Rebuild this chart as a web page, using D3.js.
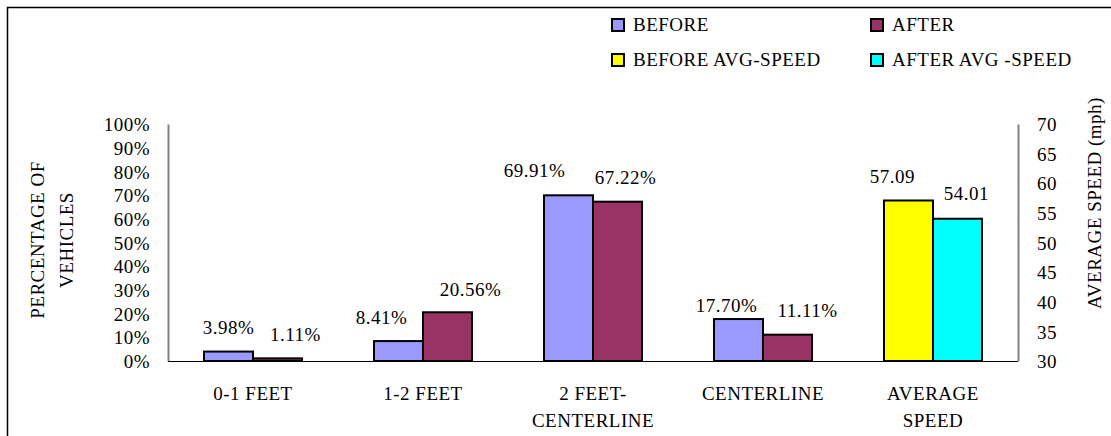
<!DOCTYPE html>
<html>
<head>
<meta charset="utf-8">
<script src="https://cdn.jsdelivr.net/npm/d3@7"></script>
<style>
  body { margin: 0; background: #fff; }
  text { font-family: "Liberation Serif", "Times New Roman", serif; font-size: 19px; letter-spacing: 0.5px; fill: #000; }
</style>
</head>
<body>
<div id="chart"></div>
<script>
// data
const categories = ["0-1 FEET", "1-2 FEET", "2 FEET-CENTERLINE", "CENTERLINE", "AVERAGE SPEED"];
const categoryLines = [["0-1 FEET"], ["1-2 FEET"], ["2 FEET-", "CENTERLINE"], ["CENTERLINE"], ["AVERAGE", "SPEED"]];
const beforePct = [3.98, 8.41, 69.91, 17.70];
const afterPct = [1.11, 20.56, 67.22, 11.11];
const speedBefore = 57.09;
const speedAfter = 54.01;
const pctTicks = [0, 10, 20, 30, 40, 50, 60, 70, 80, 90, 100];
const speedTicks = [30, 35, 40, 45, 50, 55, 60, 65, 70];

// label nudges (the labels were moved by hand in the original)
const labelDx = [[0, 18], [-17, 23], [-34, 8], [-12, 20], [-16, 9]];
const labelGap = [[18, 17], [17, 16], [18, 18], [7, 18], [17, 19]];

const W = 1111, H = 436;
const plot = { left: 168, right: 1018, top: 124, bottom: 361 };

const svg = d3.select("#chart").append("svg")
    .attr("width", W).attr("height", H);

// outer frame
svg.append("rect")
    .attr("x", 7.5).attr("y", 7.5)
    .attr("width", W).attr("height", H)
    .attr("fill", "none").attr("stroke", "#000").attr("stroke-width", 1.5);

const x0 = d3.scaleBand()
    .domain(categories)
    .range([plot.left, plot.right])
    .paddingInner(0.4235)
    .paddingOuter(0.2118);
const x1 = d3.scaleBand().domain([0, 1]).range([0, x0.bandwidth()]);

const yPct = d3.scaleLinear().domain([0, 100]).range([plot.bottom, plot.top]);
const ySpeed = d3.scaleLinear().domain([30, 70]).range([plot.bottom, plot.top]);

// rows for bars
const rows = [];
categories.slice(0, 4).forEach((c, i) => {
    rows.push({ cat: i, s: 0, y: yPct(beforePct[i]), label: beforePct[i].toFixed(2) + "%", fill: "#9999FF" });
    rows.push({ cat: i, s: 1, y: yPct(afterPct[i]), label: afterPct[i].toFixed(2) + "%", fill: "#993366" });
});
rows.push({ cat: 4, s: 0, y: ySpeed(speedBefore), label: speedBefore.toFixed(2), fill: "#FFFF00" });
rows.push({ cat: 4, s: 1, y: ySpeed(speedAfter), label: speedAfter.toFixed(2), fill: "#00FFFF" });

svg.append("g").selectAll("rect")
    .data(rows)
    .join("rect")
    .attr("x", d => x0(categories[d.cat]) + x1(d.s))
    .attr("y", d => d.y)
    .attr("width", x1.bandwidth())
    .attr("height", d => plot.bottom - d.y)
    .attr("fill", d => d.fill)
    .attr("stroke", "#000")
    .attr("stroke-width", 2);

// data labels
svg.append("g").selectAll("text")
    .data(rows)
    .join("text")
    .attr("x", d => x0(categories[d.cat]) + x1(d.s) + x1.bandwidth() / 2 + labelDx[d.cat][d.s])
    .attr("y", d => d.y - labelGap[d.cat][d.s])
    .attr("text-anchor", "middle")
    .text(d => d.label);

// left axis
svg.append("g")
    .attr("transform", `translate(${plot.left},0)`)
    .call(d3.axisLeft(yPct).tickValues(pctTicks).tickSize(0).tickPadding(18).tickFormat(d => d + "%"))
    .call(g => g.select(".domain").attr("stroke", "#808080").attr("stroke-width", 2))
    .call(g => g.selectAll("text").attr("dy", "0.35em"));

// right axis
svg.append("g")
    .attr("transform", `translate(${plot.right},0)`)
    .call(d3.axisRight(ySpeed).tickValues(speedTicks).tickSize(0).tickPadding(19))
    .call(g => g.select(".domain").attr("stroke", "#808080").attr("stroke-width", 2))
    .call(g => g.selectAll("text").attr("dy", "0.35em"));

// bottom axis line
svg.append("line")
    .attr("x1", plot.left).attr("x2", plot.right)
    .attr("y1", plot.bottom + 0.5).attr("y2", plot.bottom + 0.5)
    .attr("stroke", "#000").attr("stroke-width", 1.2);

// category labels
const catG = svg.append("g").selectAll("text")
    .data(categories)
    .join("text")
    .attr("text-anchor", "middle")
    .attr("x", d => x0(d) + x0.bandwidth() / 2)
    .attr("y", 400);
catG.selectAll("tspan")
    .data((d, i) => categoryLines[i])
    .join("tspan")
    .attr("x", function () { return d3.select(this.parentNode).attr("x"); })
    .attr("dy", (d, i) => i === 0 ? 0 : 27)
    .text(d => d);

// axis titles
svg.append("text")
    .attr("transform", "translate(52,240) rotate(-90)")
    .attr("text-anchor", "middle")
    .selectAll("tspan")
    .data(["PERCENTAGE OF", "VEHICLES"])
    .join("tspan")
    .attr("x", 0)
    .attr("y", (d, i) => -8 + i * 29)
    .text(d => d);

svg.append("text")
    .attr("transform", "translate(1101,203) rotate(-90)")
    .attr("text-anchor", "middle")
    .text("AVERAGE SPEED (mph)");

// legend
const legendItems = [
    { name: "BEFORE", fill: "#9999FF", x: 611, y: 18 },
    { name: "AFTER", fill: "#993366", x: 870, y: 18 },
    { name: "BEFORE AVG-SPEED", fill: "#FFFF00", x: 611, y: 53 },
    { name: "AFTER AVG -SPEED", fill: "#00FFFF", x: 870, y: 53 }
];
const lg = svg.append("g").selectAll("g")
    .data(legendItems)
    .join("g")
    .attr("transform", d => `translate(${d.x},${d.y})`);
lg.append("rect")
    .attr("x", 1).attr("y", 1)
    .attr("width", 12).attr("height", 12)
    .attr("fill", d => d.fill)
    .attr("stroke", "#000").attr("stroke-width", 2);
lg.append("text")
    .attr("x", 22).attr("y", 13)
    .text(d => d.name);
</script>
</body>
</html>
